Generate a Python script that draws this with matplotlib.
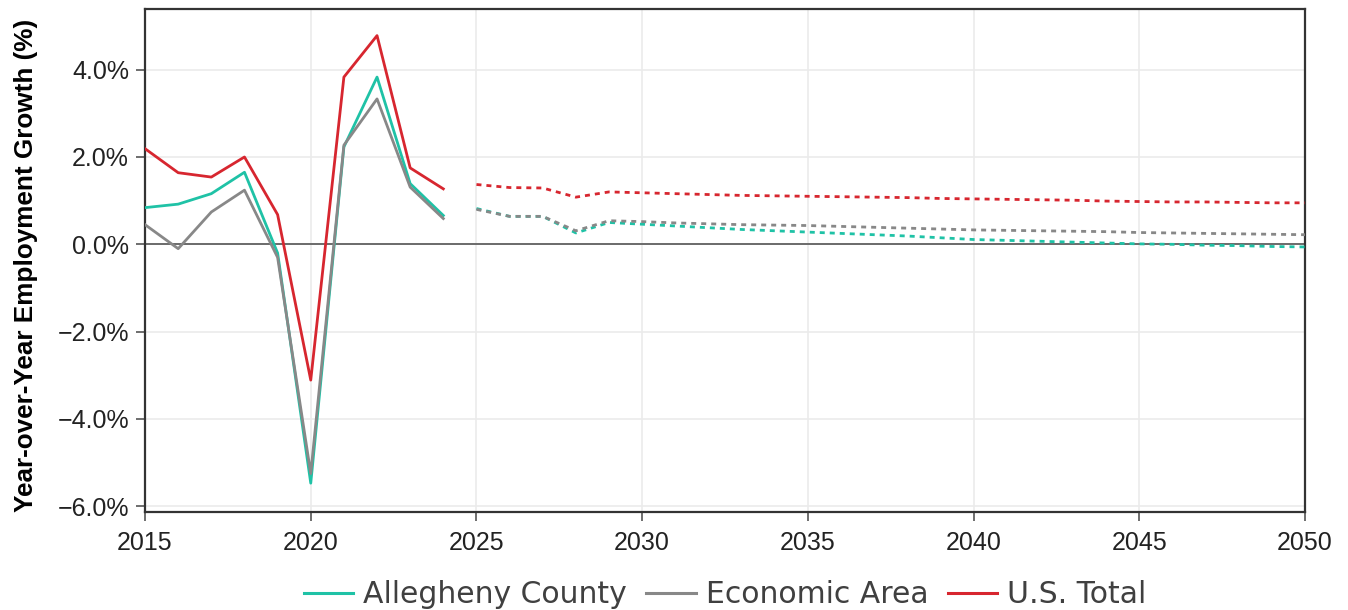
import matplotlib.pyplot as plt
import numpy as np

# history 2015-2024
hist_years = list(range(2015, 2025))
allegheny_hist = [0.84, 0.92, 1.16, 1.65, -0.20, -5.47, 2.23, 3.83, 1.39, 0.66]
econ_hist = [0.45, -0.10, 0.74, 1.24, -0.30, -5.25, 2.27, 3.33, 1.31, 0.59]
us_hist = [2.19, 1.64, 1.54, 2.00, 0.68, -3.11, 3.83, 4.78, 1.75, 1.27]

# forecast 2025-2050
fc_years = list(range(2025, 2051))
allegheny_fc = [0.82, 0.64, 0.64, 0.26, 0.50, 0.46, 0.42, 0.38, 0.34, 0.31, 0.28, 0.25, 0.22,
                0.19, 0.15, 0.11, 0.09, 0.07, 0.05, 0.03, 0.01, 0.00, -0.02, -0.03, -0.05, -0.06]
econ_fc = [0.80, 0.64, 0.64, 0.31, 0.54, 0.52, 0.49, 0.47, 0.45, 0.44, 0.43, 0.41, 0.39,
           0.37, 0.35, 0.33, 0.32, 0.31, 0.30, 0.29, 0.27, 0.26, 0.25, 0.24, 0.23, 0.22]
us_fc = [1.37, 1.30, 1.29, 1.08, 1.20, 1.18, 1.16, 1.14, 1.12, 1.11, 1.10, 1.09, 1.08,
         1.07, 1.05, 1.04, 1.03, 1.02, 1.01, 0.99, 0.98, 0.97, 0.97, 0.96, 0.95, 0.95]

names = ['Allegheny County', 'Economic Area', 'U.S. Total']
colors = ['#1fc2a6', '#888888', '#d7262f']

plt.rcParams['font.family'] = ['Liberation Sans', 'DejaVu Sans']

fig = plt.figure(figsize=(13.48, 6.1), dpi=100)
ax = fig.add_axes([0.1076, 0.1607, 0.8605, 0.8246])

hists = [allegheny_hist, econ_hist, us_hist]
fcs = [allegheny_fc, econ_fc, us_fc]
for name, c, h, f in zip(names, colors, hists, fcs):
    ax.plot(hist_years, h, color=c, lw=2.0, label=name, zorder=3)
    ax.plot(fc_years, f, color=c, lw=2.0, linestyle=(0, (1.8, 1.8)), zorder=3)

ax.axhline(0, color='#555555', lw=1.2, zorder=2)

ax.set_xlim(2015, 2050)
ax.set_ylim(-6.13, 5.39)
ax.set_xticks(range(2015, 2051, 5))
ax.set_yticks(np.arange(-6, 5, 2))
ax.set_yticklabels(['\u2212%.1f%%' % -v if v < 0 else '%.1f%%' % v for v in np.arange(-6, 5, 2)])
ax.grid(True, color='#ebebeb', lw=1.2, zorder=0)

for s in ax.spines.values():
    s.set_color('#333333')
    s.set_linewidth(1.6)
ax.tick_params(axis='both', labelsize=18, labelcolor='#222222', color='#555555',
               width=1.2, length=6.5)
ax.tick_params(axis='x', pad=7)
ax.tick_params(axis='y', pad=5)

ax.set_ylabel('Year-over-Year Employment Growth (%)', fontsize=18.8, fontweight='bold')
ax.yaxis.set_label_coords(-0.092, 0.49)

leg = ax.legend(loc='center', bbox_to_anchor=(0.5, -0.165), ncol=3, frameon=False,
                prop={'family': 'DejaVu Sans', 'size': 21.5},
                handlelength=1.67, handletextpad=0.33, columnspacing=0.64)
for t in leg.get_texts():
    t.set_color('#404040')
for l in leg.get_lines():
    l.set_linewidth(2.2)

fig.savefig('out.png', dpi=100)
